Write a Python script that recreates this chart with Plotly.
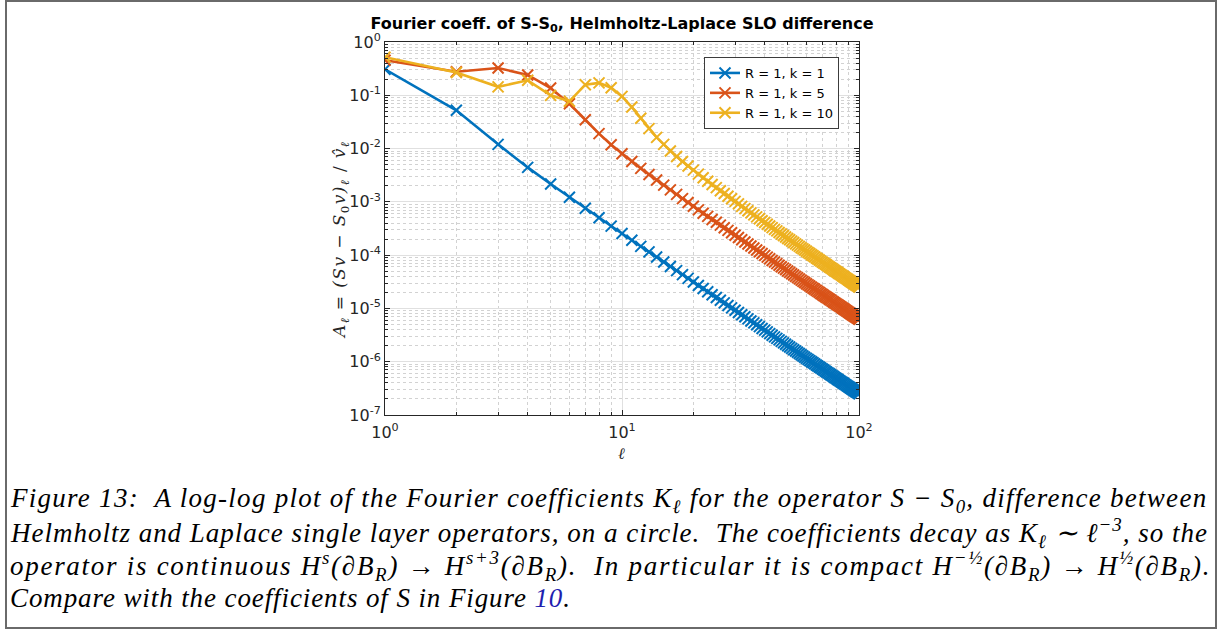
import plotly.graph_objects as go

# Fourier mode index
ell = list(range(1, 101))

# |A_l| for R = 1, k = 1
a_k1 = [0.307, 0.0522, 0.0120, 0.00443, 0.00216, 0.00122, 0.000757, 0.000502, 0.000351, 0.000255,
        1.9e-4, 1.46e-4, 1.15e-4, 9.2e-5, 7.46e-5, 6.14e-5, 5.12e-5, 4.31e-5, 3.66e-5, 3.14e-5,
        2.70e-5, 2.36e-5, 2.06e-5, 1.81e-5, 1.60e-5, 1.422e-5, 1.270e-5, 1.139e-5, 1.025e-5, 9.26e-6,
        8.39e-6, 7.63e-6, 6.96e-6, 6.36e-6, 5.83e-6, 5.36e-6, 4.94e-6, 4.56e-6, 4.21e-6, 3.91e-6,
        3.63e-6, 3.37e-6, 3.14e-6, 2.93e-6, 2.74e-6, 2.57e-6, 2.41e-6, 2.26e-6, 2.12e-6, 2.00e-6,
        1.885e-6, 1.778e-6, 1.679e-6, 1.588e-6, 1.503e-6, 1.424e-6, 1.350e-6, 1.281e-6, 1.217e-6, 1.157e-6,
        1.101e-6, 1.049e-6, 1.000e-6, 9.54e-7, 9.10e-7, 8.70e-7, 8.31e-7, 7.95e-7, 7.61e-7, 7.29e-7,
        6.98e-7, 6.70e-7, 6.43e-7, 6.17e-7, 5.93e-7, 5.70e-7, 5.48e-7, 5.27e-7, 5.07e-7, 4.88e-7,
        4.70e-7, 4.53e-7, 4.37e-7, 4.22e-7, 4.07e-7, 3.93e-7, 3.80e-7, 3.67e-7, 3.55e-7, 3.43e-7,
        3.32e-7, 3.21e-7, 3.11e-7, 3.01e-7, 2.92e-7, 2.83e-7, 2.74e-7, 2.66e-7, 2.58e-7, 2.50e-7]

# |A_l| for R = 1, k = 5
a_k5 = [0.456, 0.277, 0.326, 0.2405, 0.137, 0.0693, 0.0348, 0.0191, 0.0118, 0.0080,
        0.0057, 0.00425, 0.00327, 0.00257, 0.00206, 0.00168, 0.00138, 0.00115, 0.00097, 0.00083,
        7.07e-4, 6.12e-4, 5.34e-4, 4.68e-4, 4.13e-4, 3.66e-4, 3.26e-4, 2.92e-4, 2.63e-4, 2.37e-4,
        2.14e-4, 1.945e-4, 1.77e-4, 1.62e-4, 1.48e-4, 1.36e-4, 1.25e-4, 1.155e-4, 1.07e-4, 9.89e-5,
        9.18e-5, 8.53e-5, 7.95e-5, 7.41e-5, 6.93e-5, 6.48e-5, 6.07e-5, 5.70e-5, 5.36e-5, 5.04e-5,
        4.75e-5, 4.48e-5, 4.23e-5, 4.00e-5, 3.78e-5, 3.58e-5, 3.40e-5, 3.22e-5, 3.06e-5, 2.91e-5,
        2.77e-5, 2.64e-5, 2.51e-5, 2.40e-5, 2.29e-5, 2.18e-5, 2.09e-5, 2.00e-5, 1.91e-5, 1.83e-5,
        1.75e-5, 1.68e-5, 1.61e-5, 1.55e-5, 1.49e-5, 1.43e-5, 1.37e-5, 1.32e-5, 1.27e-5, 1.225e-5,
        1.18e-5, 1.14e-5, 1.10e-5, 1.06e-5, 1.02e-5, 9.85e-6, 9.52e-6, 9.20e-6, 8.89e-6, 8.60e-6,
        8.31e-6, 8.05e-6, 7.79e-6, 7.54e-6, 7.31e-6, 7.08e-6, 6.86e-6, 6.65e-6, 6.45e-6, 6.26e-6]

# |A_l| for R = 1, k = 10
a_k10 = [0.517, 0.268, 0.144, 0.191, 0.0997, 0.077, 0.158, 0.171, 0.139, 0.0954,
         0.0601, 0.0371, 0.0237, 0.0162, 0.0120, 0.0090, 0.0071, 0.00574, 0.00472, 0.00394,
         0.00332, 0.00283, 0.00244, 0.00211, 0.00185, 0.00162, 0.00143, 0.00127, 0.00114, 0.00102,
         9.15e-4, 8.24e-4, 7.47e-4, 6.81e-4, 6.21e-4, 5.69e-4, 5.22e-4, 4.81e-4, 4.435e-4, 4.10e-4,
         3.80e-4, 3.525e-4, 3.28e-4, 3.05e-4, 2.85e-4, 2.66e-4, 2.49e-4, 2.34e-4, 2.19e-4, 2.06e-4,
         1.94e-4, 1.83e-4, 1.725e-4, 1.63e-4, 1.54e-4, 1.46e-4, 1.38e-4, 1.31e-4, 1.245e-4, 1.18e-4,
         1.125e-4, 1.07e-4, 1.02e-4, 9.72e-5, 9.27e-5, 8.85e-5, 8.45e-5, 8.08e-5, 7.73e-5, 7.40e-5,
         7.09e-5, 6.80e-5, 6.52e-5, 6.25e-5, 6.01e-5, 5.77e-5, 5.55e-5, 5.33e-5, 5.13e-5, 4.94e-5,
         4.76e-5, 4.585e-5, 4.42e-5, 4.26e-5, 4.11e-5, 3.97e-5, 3.83e-5, 3.70e-5, 3.58e-5, 3.46e-5,
         3.35e-5, 3.24e-5, 3.135e-5, 3.035e-5, 2.94e-5, 2.85e-5, 2.76e-5, 2.68e-5, 2.60e-5, 2.52e-5]

series_names = ["R = 1, k = 1", "R = 1, k = 5", "R = 1, k = 10"]
series_colors = ["#0072BD", "#D95319", "#EDB120"]

x_ticks = [1, 10, 100]
x_ticktext = ["10<sup>0</sup>", "10<sup>1</sup>", "10<sup>2</sup>"]
y_ticks = [1e-7, 1e-6, 1e-5, 1e-4, 1e-3, 1e-2, 1e-1, 1]
y_ticktext = ["10<sup>-7</sup>", "10<sup>-6</sup>", "10<sup>-5</sup>", "10<sup>-4</sup>",
              "10<sup>-3</sup>", "10<sup>-2</sup>", "10<sup>-1</sup>", "10<sup>0</sup>"]

W, H = 1218, 631
PL, PR, PT, PB = 385, 859, 42, 415   # plot-area edges in pixels


def fx(px):
    return (px - PL) / (PR - PL)


def fy(py):
    return (PB - py) / (PB - PT)


def minor_vals(e0, e1):
    return [m * 10.0 ** e for e in range(e0, e1) for m in range(2, 10)]


fig = go.Figure()
for vals, name, col in zip([a_k1, a_k5, a_k10], series_names, series_colors):
    fig.add_trace(go.Scatter(
        x=ell, y=vals, name=name, mode="lines+markers",
        line=dict(color=col, width=2.6),
        marker=dict(symbol="x-thin", size=11, line=dict(color=col, width=2)),
    ))

axis_common = dict(
    type="log", showline=True, linecolor="#262626", linewidth=1, mirror="ticks",
    ticks="inside", ticklen=5, tickcolor="#262626", tickwidth=1,
    showgrid=True, gridcolor="#e0e0e0", gridwidth=1, zeroline=False, automargin=False,
    tickfont=dict(family="DejaVu Sans", size=16, color="#262626"),
)

fig.update_xaxes(range=[0, 2], tickvals=x_ticks, ticktext=x_ticktext, ticklabelstandoff=3,
                 minor=dict(tickvals=minor_vals(0, 2), ticks="inside", ticklen=3,
                            tickcolor="#262626", showgrid=True, griddash="dot",
                            gridcolor="#d2d2d2", gridwidth=1),
                 **axis_common)
fig.update_yaxes(range=[-7, 0], tickvals=y_ticks, ticktext=y_ticktext,
                 minor=dict(tickvals=minor_vals(-7, 0), ticks="inside", ticklen=3,
                            tickcolor="#262626", showgrid=True, griddash="dot",
                            gridcolor="#d2d2d2", gridwidth=1),
                 **axis_common)

ann = []
# axis labels
ann.append(dict(x=fx(621), y=fy(453), xref="paper", yref="paper", showarrow=False,
                xanchor="center", yanchor="middle",
                text="<i>ℓ</i>", font=dict(family="DejaVu Serif", size=16, color="#262626")))
ann.append(dict(x=fx(340), y=fy(240), xref="paper", yref="paper", showarrow=False,
                xanchor="center", yanchor="middle", textangle=-90,
                text="<span style='letter-spacing:1.4px'><i>A</i><sub><i>ℓ</i></sub> = <i>(Sv</i> − <i>S</i><sub>0</sub><i>v)</i><sub><i>ℓ</i></sub> / <i>v̂</i><sub><i>ℓ</i></sub></span>",
                font=dict(family="DejaVu Serif", size=17, color="#262626")))

# caption, one justified line per annotation
cap_font = dict(family="Liberation Serif", size=27, color="#000000")
caption_lines = [
    "Figure 13:  A log-log plot of the Fourier coefficients K<sub>ℓ</sub> for the operator S − S<sub>0</sub>, difference between",
    "Helmholtz and Laplace single layer operators, on a circle.  The coefficients decay as K<sub>ℓ</sub> ∼ ℓ<sup>−3</sup>, so the",
    "operator is continuous H<sup>s</sup>(∂B<sub>R</sub>) → H<sup>s+3</sup>(∂B<sub>R</sub>).  In particular it is compact H<sup>−½</sup>(∂B<sub>R</sub>) → H<sup>½</sup>(∂B<sub>R</sub>).",
    "Compare with the coefficients of S in Figure <span style='color:#1f1fb0'>10</span>.",
]
caption_spacing = [1.27, 0.99, 1.72, 0.9]
caption_y = [500, 533, 566, 598]
for txt, sp, yy in zip(caption_lines, caption_spacing, caption_y):
    ann.append(dict(x=fx(8), y=fy(yy), xref="paper", yref="paper", showarrow=False,
                    xanchor="left", yanchor="middle",
                    text=f"<span style='letter-spacing:{sp}px'><i>{txt}</i></span>", font=cap_font))

fig.update_layout(
    width=W, height=H,
    margin=dict(l=PL, r=W - PR, t=PT, b=H - PB, pad=0),
    paper_bgcolor="white", plot_bgcolor="white",
    title=dict(text="<b>Fourier coeff. of S-S<sub>0</sub>, Helmholtz-Laplace SLO difference</b>",
               x=fx(622), xref="paper", xanchor="center",
               y=1 - 23 / H, yref="container", yanchor="middle",
               font=dict(family="DejaVu Sans", size=16, color="#000000")),
    legend=dict(x=fx(704), y=fy(57), xanchor="left", yanchor="top",
                bgcolor="white", bordercolor="#3c3c3c", borderwidth=1,
                font=dict(family="DejaVu Sans", size=13, color="#000000"),
                tracegroupgap=0, itemwidth=30),
    annotations=ann,
    shapes=[dict(type="rect", xref="paper", yref="paper",
                 x0=fx(6), x1=fx(1216), y0=fy(628), y1=fy(1),
                 line=dict(color="#6a6a6a", width=2), fillcolor="rgba(0,0,0,0)")],
)

fig.write_html("out.html")
